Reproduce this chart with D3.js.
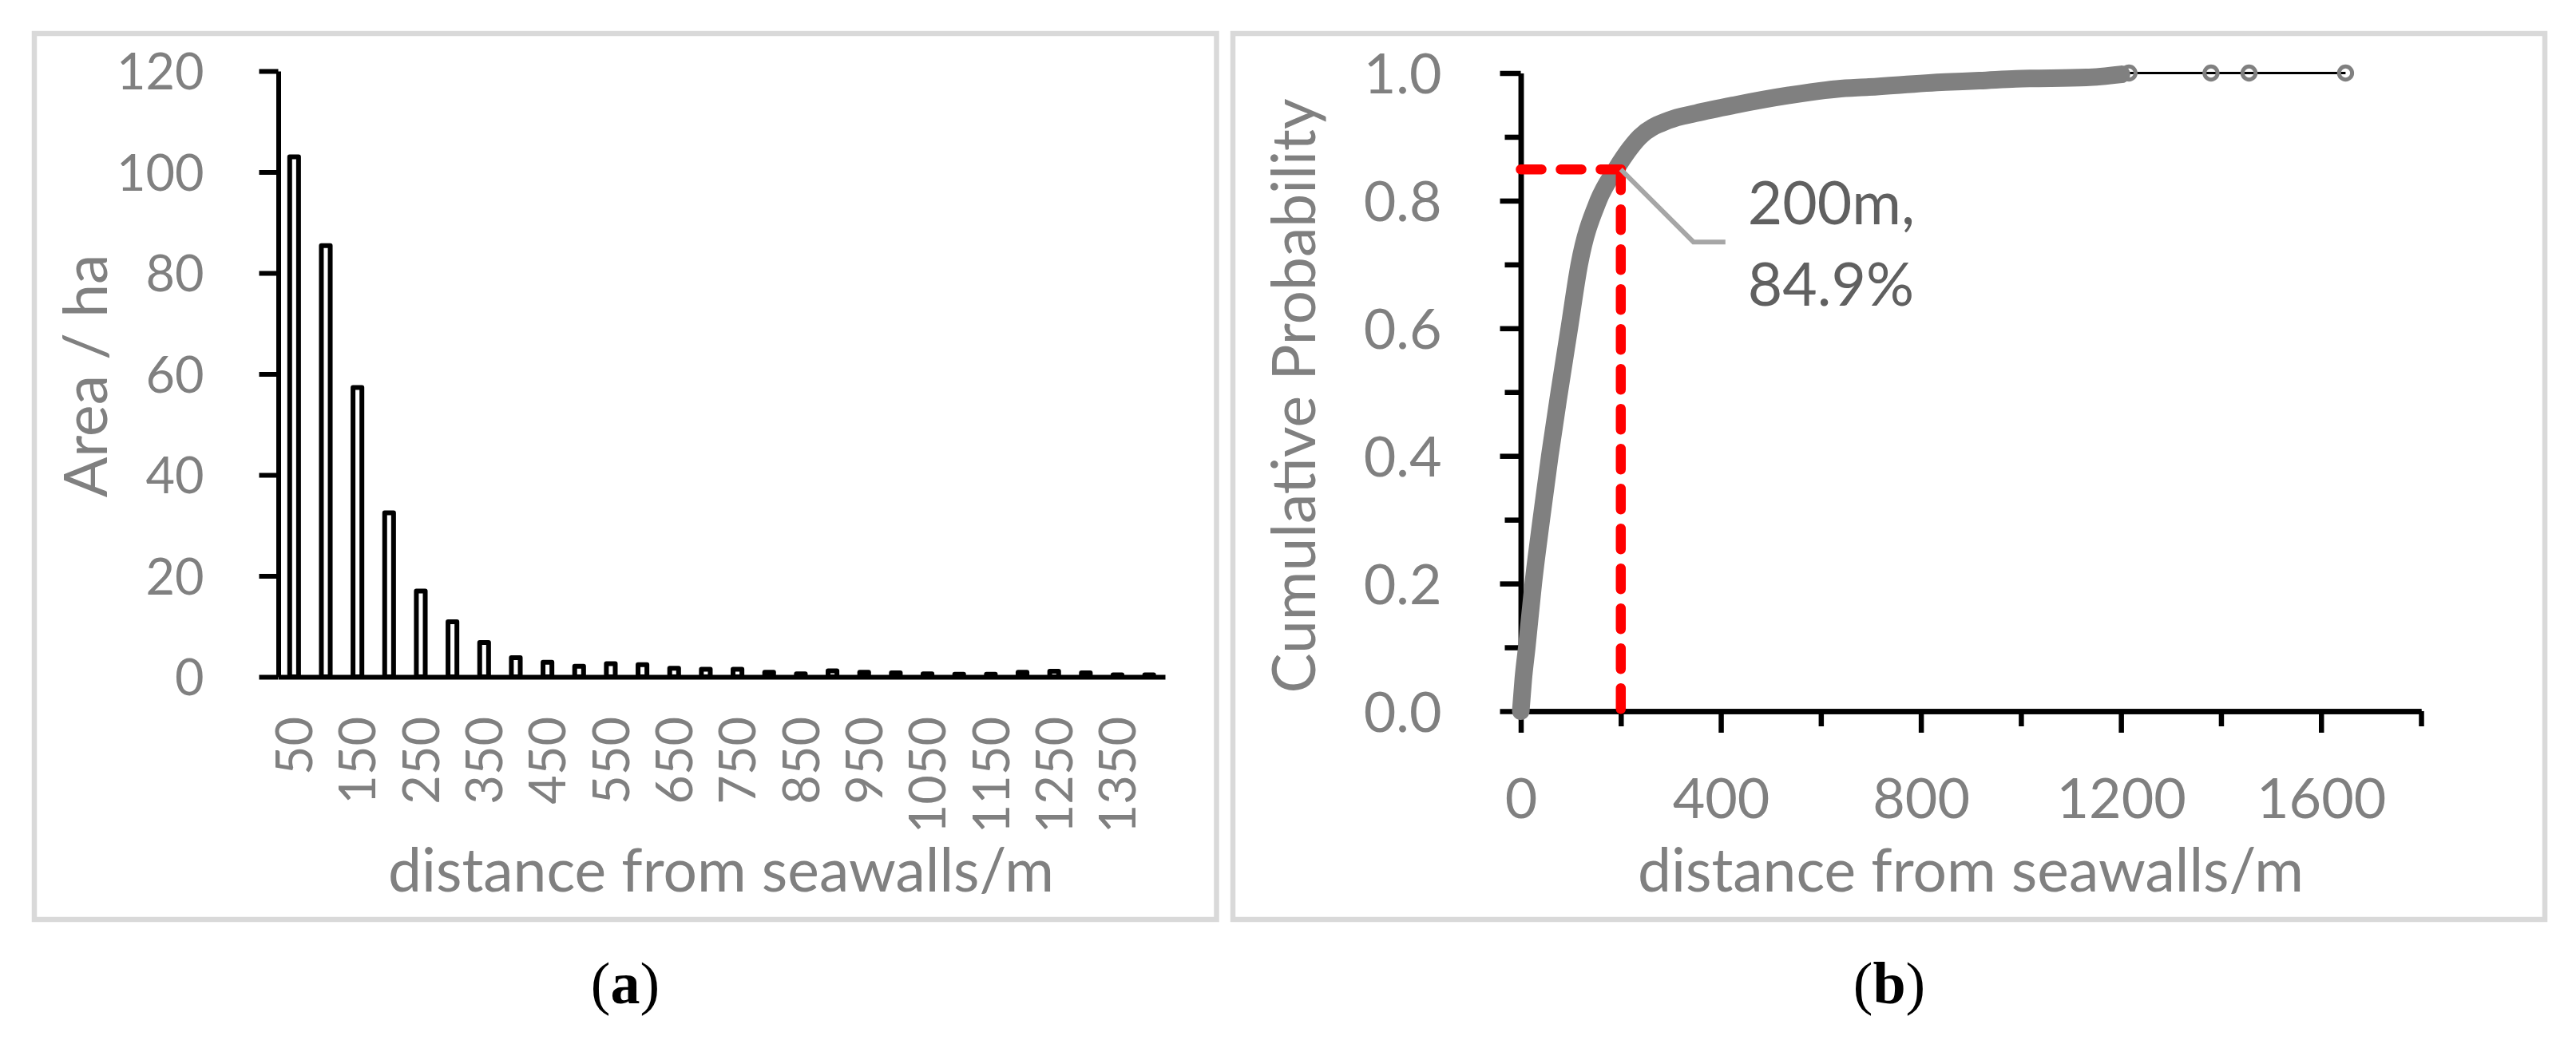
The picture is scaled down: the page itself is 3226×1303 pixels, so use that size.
<!DOCTYPE html>
<html>
<head>
<meta charset="utf-8">
<script src="https://cdn.jsdelivr.net/npm/d3@7"></script>
<style>
  body { margin: 0; background: #fff; }
  svg { display: block; }
</style>
</head>
<body>
<main></main>
<script>
// data
// (a) area per 50 m distance bin
const distanceBins = [50, 100, 150, 200, 250, 300, 350, 400, 450, 500, 550, 600, 650, 700,
                      750, 800, 850, 900, 950, 1000, 1050, 1100, 1150, 1200, 1250, 1300, 1350, 1400]
const areaHa = [103.0, 85.4, 57.3, 32.5, 17.0, 10.9, 6.8, 3.8, 2.9, 2.1, 2.6, 2.4, 1.7, 1.5,
                1.5, 0.9, 0.6, 1.2, 0.9, 0.8, 0.6, 0.5, 0.5, 0.9, 1.1, 0.8, 0.4, 0.4]
const areaTicks = [0, 20, 40, 60, 80, 100, 120]

// (b) cumulative probability curve
const cdfDistance = [0, 5, 12, 25, 41, 58, 77, 97, 117, 155, 190, 238, 296, 350, 429, 536,
                     632, 696, 849, 917, 990, 1130, 1201]
const cdfProb = [0, 0.05, 0.1, 0.2, 0.3, 0.4, 0.5, 0.6, 0.7, 0.8, 0.849, 0.9, 0.926, 0.937,
                 0.95, 0.965, 0.975, 0.978, 0.986, 0.988, 0.991, 0.993, 0.998]
const tailDistance = [1216, 1380, 1456, 1649]
const tailProb = [1, 1, 1, 1]
const probMajor = [0, 0.2, 0.4, 0.6, 0.8, 1.0]
const probMinor = [0.1, 0.3, 0.5, 0.7, 0.9]
const distMajor = [0, 400, 800, 1200, 1600]
const distMinor = [200, 600, 1000, 1400, 1800]
const markDistance = 200
const markProb = 0.849
const markLines = ['200m,', '84.9%']

// sizes
const sizeOfSVG = { width: 3226, height: 1303 }
const font = 'Lato, "Open Sans", sans-serif'
const labelGray = '#808080'

const svg = d3.select('main')
    .append('svg')
    .attr('width', sizeOfSVG.width)
    .attr('height', sizeOfSVG.height)

// panel frames
const frames = [[43, 42, 1523.5, 1152], [1544, 42, 3187, 1152]]
frames.forEach(f => {
    svg.append('rect')
        .attr('x', f[0]).attr('y', f[1])
        .attr('width', f[2] - f[0]).attr('height', f[3] - f[1])
        .attr('fill', 'none')
        .attr('stroke', '#d9d9d9')
        .attr('stroke-width', 6.5)
})

const styleAxis = (g, size, width) => {
    g.attr('font-family', font).attr('font-size', size)
    g.selectAll('text').attr('fill', labelGray)
    g.selectAll('line').attr('stroke', '#000').attr('stroke-width', width)
    g.select('.domain').attr('stroke', '#000').attr('stroke-width', width)
}

// ---------- (a) bar chart ----------
const xBand = d3.scaleBand()
    .domain(distanceBins)
    .range([348.5, 1459])
    .paddingInner(0.72)
    .paddingOuter(0.36)
const yArea = d3.scaleLinear()
    .domain([0, 120])
    .range([848, 89])

svg.append('g')
    .selectAll('rect')
    .data(distanceBins)
    .enter()
    .append('rect')
    .attr('x', d => xBand(d))
    .attr('width', xBand.bandwidth())
    .attr('y', (d, i) => yArea(areaHa[i]))
    .attr('height', (d, i) => yArea(0) - yArea(areaHa[i]))
    .attr('fill', '#fff')
    .attr('stroke', '#000')
    .attr('stroke-width', 6)
    .attr('stroke-linejoin', 'round')

const yAxisA = svg.append('g')
    .attr('transform', 'translate(348.5,0)')
    .call(d3.axisLeft(yArea).tickValues(areaTicks).tickSize(24).tickSizeOuter(0).tickPadding(69))
styleAxis(yAxisA, 63, 6)
yAxisA.selectAll('text').attr('dy', '0.36em')

const xAxisA = svg.append('g')
    .attr('transform', `translate(0,${yArea(0)})`)
    .call(d3.axisBottom(xBand).tickSize(0).tickSizeOuter(0)
        .tickFormat((d, i) => i % 2 === 0 ? d : ''))
styleAxis(xAxisA, 63, 6)
xAxisA.selectAll('text')
    .attr('transform', 'rotate(-90)')
    .attr('x', -50)
    .attr('y', 0)
    .attr('dy', '0.36em')
    .attr('text-anchor', 'end')

svg.append('text')
    .attr('x', 903).attr('y', 1117)
    .attr('text-anchor', 'middle')
    .attr('font-family', font).attr('font-size', 75)
    .attr('fill', labelGray)
    .text('distance from seawalls/m')

svg.append('text')
    .attr('transform', 'translate(134,471) rotate(-90)')
    .attr('text-anchor', 'middle')
    .attr('font-family', font).attr('font-size', 75)
    .attr('fill', labelGray)
    .text('Area / ha')

// ---------- (b) cumulative probability ----------
const xDist = d3.scaleLinear()
    .domain([0, 1800])
    .range([1904.5, 3032])
const yProb = d3.scaleLinear()
    .domain([0, 1])
    .range([891, 91.5])

const yMinorB = svg.append('g')
    .attr('transform', `translate(${xDist(0)},0)`)
    .call(d3.axisLeft(yProb).tickValues(probMinor).tickSize(20).tickSizeOuter(0).tickFormat(''))
styleAxis(yMinorB, 70, 6.5)
const yAxisB = svg.append('g')
    .attr('transform', `translate(${xDist(0)},0)`)
    .call(d3.axisLeft(yProb).tickValues(probMajor).tickSize(26).tickSizeOuter(0)
        .tickPadding(73).tickFormat(d3.format('.1f')))
styleAxis(yAxisB, 70, 6.5)
yAxisB.selectAll('text').attr('dy', '0.36em')

const xMinorB = svg.append('g')
    .attr('transform', `translate(0,${yProb(0)})`)
    .call(d3.axisBottom(xDist).tickValues(distMinor).tickSize(19).tickSizeOuter(0).tickFormat(''))
styleAxis(xMinorB, 70, 6.5)
const xAxisB = svg.append('g')
    .attr('transform', `translate(0,${yProb(0)})`)
    .call(d3.axisBottom(xDist).tickValues(distMajor).tickSize(27).tickSizeOuter(0)
        .tickPadding(57).tickFormat(d3.format('d')))
styleAxis(xAxisB, 70, 6.5)
xAxisB.selectAll('text').attr('dy', '0.72em')

// series line and markers
const allDist = cdfDistance.concat(tailDistance)
const allProb = cdfProb.concat(tailProb)
const seriesLine = d3.line()
    .x((d, i) => xDist(allDist[i]))
    .y((d, i) => yProb(allProb[i]))
svg.append('path')
    .attr('d', seriesLine(allDist))
    .attr('fill', 'none')
    .attr('stroke', '#000')
    .attr('stroke-width', 3)

const bandLine = d3.line()
    .x((d, i) => xDist(cdfDistance[i]))
    .y((d, i) => yProb(cdfProb[i]))
    .curve(d3.curveMonotoneX)
svg.append('path')
    .attr('d', bandLine(cdfDistance))
    .attr('fill', 'none')
    .attr('stroke', '#808080')
    .attr('stroke-width', 22)
    .attr('stroke-linecap', 'round')
    .attr('stroke-linejoin', 'round')

svg.append('g')
    .selectAll('circle')
    .data(tailDistance)
    .enter()
    .append('circle')
    .attr('cx', d => xDist(d))
    .attr('cy', (d, i) => yProb(tailProb[i]))
    .attr('r', 8.2)
    .attr('fill', 'none')
    .attr('stroke', '#808080')
    .attr('stroke-width', 5)

// red guide lines
const guide = d3.line().x(d => xDist(d[0])).y(d => yProb(d[1]))
const guides = [
    [[0, markProb], [markDistance, markProb]],
    [[markDistance, markProb], [markDistance, 0]]
]
guides.forEach(g => {
    svg.append('path')
        .attr('d', guide(g))
        .attr('fill', 'none')
        .attr('stroke', '#ff0000')
        .attr('stroke-width', 12.5)
        .attr('stroke-dasharray', '26 24')
        .attr('stroke-linecap', 'round')
})

// callout
const mx = xDist(markDistance)
const my = yProb(markProb)
svg.append('polyline')
    .attr('points', [[mx, my], [mx + 91, my + 91], [mx + 131, my + 91]].map(p => p.join(',')).join(' '))
    .attr('fill', 'none')
    .attr('stroke', '#a6a6a6')
    .attr('stroke-width', 6)

svg.append('g')
    .selectAll('text')
    .data(markLines)
    .enter()
    .append('text')
    .attr('x', mx + 159)
    .attr('y', (d, i) => my + 69 + i * 102)
    .attr('font-family', font).attr('font-size', 75)
    .attr('fill', '#606060')
    .text(d => d)

svg.append('text')
    .attr('x', 2468).attr('y', 1117)
    .attr('text-anchor', 'middle')
    .attr('font-family', font).attr('font-size', 75)
    .attr('fill', labelGray)
    .text('distance from seawalls/m')

svg.append('text')
    .attr('transform', 'translate(1647,496) rotate(-90)')
    .attr('text-anchor', 'middle')
    .attr('font-family', font).attr('font-size', 75)
    .attr('fill', labelGray)
    .text('Cumulative Probability')

// panel captions
const captions = [['a', 783], ['b', 2366]]
captions.forEach(c => {
    const t = svg.append('text')
        .attr('x', c[1]).attr('y', 1257)
        .attr('text-anchor', 'middle')
        .attr('font-family', '"Liberation Serif", "Times New Roman", serif')
        .attr('font-size', 74)
        .attr('font-weight', 'normal')
        .attr('fill', '#000')
    t.append('tspan').text('(')
    t.append('tspan').attr('font-weight', 'bold').text(c[0])
    t.append('tspan').text(')')
})
</script>
</body>
</html>
